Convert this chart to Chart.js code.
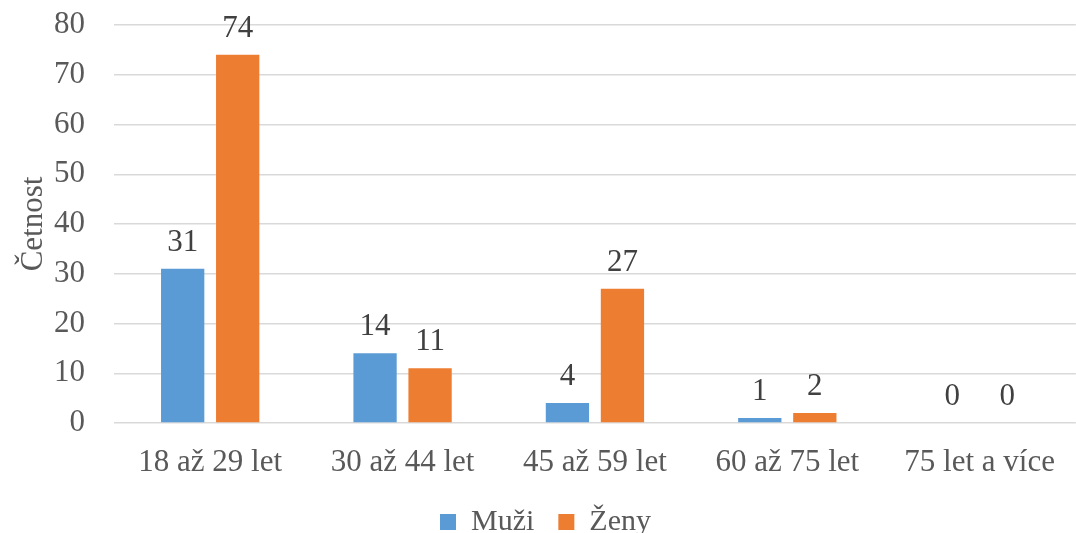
<!DOCTYPE html>
<html>
<head>
<meta charset="utf-8">
<script src="https://cdn.jsdelivr.net/npm/chart.js@4/dist/chart.umd.min.js"></script>
<style>
  html, body { margin: 0; padding: 0; background: #fff; }
  #wrap { width: 1076px; height: 533px; }
</style>
</head>
<body>
<div id="wrap"><canvas id="chart"></canvas></div>
<script>
const categories = ['18 až 29 let', '30 až 44 let', '45 až 59 let', '60 až 75 let', '75 let a více']
const muzi = [31, 14, 4, 1, 0]
const zeny = [74, 11, 27, 2, 0]
const yTicks = [0, 10, 20, 30, 40, 50, 60, 70, 80]

const serif = "'Liberation Serif', 'Times New Roman', serif"
const textGrey = '#595959'
const fontSize = 31

// writes each bar's value just above it
const valueLabels = {
  id: 'valueLabels',
  afterDatasetsDraw(chart) {
    const ctx = chart.ctx
    ctx.save()
    ctx.font = `${fontSize}px ${serif}`
    ctx.fillStyle = '#404040'
    ctx.textAlign = 'center'
    ctx.textBaseline = 'alphabetic'
    chart.data.datasets.forEach((ds, i) => {
      chart.getDatasetMeta(i).data.forEach((bar, j) => {
        ctx.fillText(ds.data[j], bar.x, bar.y - 18)
      })
    })
    ctx.restore()
  }
}

const chart = new Chart(document.getElementById('chart'), {
  type: 'bar',
  data: {
    labels: categories,
    datasets: [
      { label: 'Muži', data: muzi, backgroundColor: '#5b9bd5' },
      { label: 'Ženy', data: zeny, backgroundColor: '#ed7d31' }
    ]
  },
  options: {
    responsive: true,
    maintainAspectRatio: false,
    animation: false,
    layout: { padding: { top: 0, right: 0, left: 15, bottom: -14 } },
    categoryPercentage: 0.572,
    barPercentage: 0.787,
    plugins: {
      tooltip: { enabled: false },
      legend: {
        position: 'bottom',
        labels: {
          color: textGrey,
          font: { family: serif, size: 30, lineHeight: 0.5 },
          boxWidth: 16,
          boxHeight: 16,
          padding: 24
        }
      }
    },
    scales: {
      x: {
        grid: { display: false, drawTicks: false },
        border: { display: false },
        ticks: { color: textGrey, font: { family: serif, size: fontSize }, padding: 21 },
        afterFit: (scale) => { scale.height = 60 }
      },
      y: {
        min: 0,
        max: 80,
        afterBuildTicks: (scale) => { scale.ticks = yTicks.map(v => ({ value: v })) },
        grid: { color: '#d9d9d9', lineWidth: 1.5, drawTicks: false },
        border: { display: false },
        ticks: { color: textGrey, font: { family: serif, size: fontSize }, padding: 29 },
        title: {
          display: true,
          text: 'Četnost',
          color: textGrey,
          font: { family: serif, size: fontSize },
          padding: 0
        },
        afterFit: (scale) => {
          scale.width = 99
          scale.paddingTop = 25
          scale.paddingBottom = 0
        }
      }
    }
  },
  plugins: [valueLabels]
})
</script>
</body>
</html>
